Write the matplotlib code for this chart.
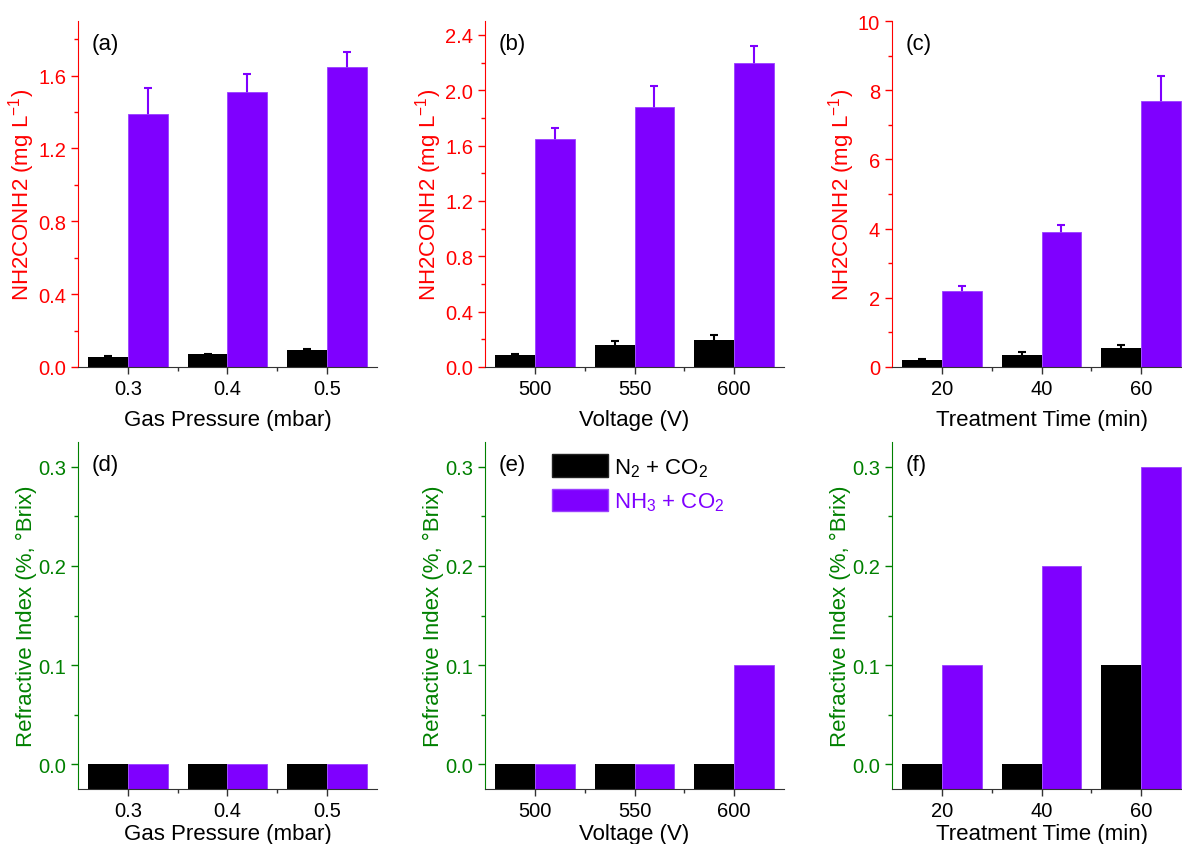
import matplotlib
matplotlib.use('Agg')
import matplotlib.pyplot as plt
import numpy as np
from matplotlib.patches import Patch
from matplotlib.ticker import MultipleLocator, FixedLocator

plt.rcParams['font.family'] = ['Liberation Sans', 'DejaVu Sans']
plt.rcParams['mathtext.fontset'] = 'custom'
plt.rcParams['mathtext.rm'] = 'Liberation Sans'
plt.rcParams['mathtext.it'] = 'Liberation Sans'
plt.rcParams['mathtext.default'] = 'regular'

# categories
pressure = ['0.3', '0.4', '0.5']
voltage = ['500', '550', '600']
treat_time = ['20', '40', '60']

# urea concentration (mg/L) and upper error
urea_n2_pressure = [0.056, 0.069, 0.091]
urea_n2_pressure_err = [0.004, 0.005, 0.006]
urea_nh3_pressure = [1.39, 1.51, 1.65]
urea_nh3_pressure_err = [0.14, 0.10, 0.08]

urea_n2_voltage = [0.089, 0.156, 0.193]
urea_n2_voltage_err = [0.006, 0.03, 0.035]
urea_nh3_voltage = [1.65, 1.88, 2.20]
urea_nh3_voltage_err = [0.08, 0.15, 0.12]

urea_n2_time = [0.20, 0.35, 0.55]
urea_n2_time_err = [0.03, 0.07, 0.09]
urea_nh3_time = [2.2, 3.9, 7.7]
urea_nh3_time_err = [0.13, 0.21, 0.70]

# refractive index (% Brix)
brix_n2_pressure = [0.0, 0.0, 0.0]
brix_nh3_pressure = [0.0, 0.0, 0.0]
brix_n2_voltage = [0.0, 0.0, 0.0]
brix_nh3_voltage = [0.0, 0.0, 0.1]
brix_n2_time = [0.0, 0.0, 0.1]
brix_nh3_time = [0.1, 0.2, 0.3]

BLACK = '#000000'
PURPLE = '#7F00FF'
RED = '#FF0000'
GREEN = '#008000'

W, H = 1182, 845
fig = plt.figure(figsize=(W / 100, H / 100), dpi=100)


def px_axes(left, top, right, bottom):
    return fig.add_axes([left / W, 1 - bottom / H, (right - left) / W, (bottom - top) / H])


def style_axes(ax, cats, color, ylim, major, minor, xlabel, ylabel, tag):
    ax.set_xlim(-0.5, len(cats) - 0.5)
    ax.set_ylim(*ylim)
    for s in ['top', 'right']:
        ax.spines[s].set_visible(False)
    ax.spines['left'].set_color(color)
    ax.spines['bottom'].set_color('#333333')
    ax.set_xticks(range(len(cats)))
    ax.set_xticklabels(cats)
    ax.xaxis.set_minor_locator(FixedLocator(np.arange(0.5, len(cats) - 0.5, 1)))
    ax.yaxis.set_major_locator(MultipleLocator(major))
    ax.yaxis.set_minor_locator(MultipleLocator(minor))
    ax.tick_params(axis='both', which='major', direction='out', length=5, width=1, labelsize=14.5)
    ax.tick_params(axis='both', which='minor', direction='out', length=3, width=1)
    ax.tick_params(axis='y', which='both', colors=color, labelcolor=color)
    ax.tick_params(axis='x', which='both', colors='#333333', labelcolor='black')
    ax.set_xlabel(xlabel, fontsize=16, labelpad=8)
    ax.set_ylabel(ylabel, fontsize=16, color=color, labelpad=1)
    ax.text(0.047, 0.935, tag, transform=ax.transAxes, fontsize=16, va='center', ha='left')


def draw_bars(ax, n2, nh3, n2_err=None, nh3_err=None, base=0.0):
    x = np.arange(len(n2))
    w = 0.4
    ax.bar(x - w / 2, np.array(n2) - base, width=w, bottom=base, color=BLACK, zorder=2)
    ax.bar(x + w / 2, np.array(nh3) - base, width=w, bottom=base, color=PURPLE,
           edgecolor='#9A40FF', linewidth=0.6, zorder=2)
    if n2_err is not None:
        # symmetric bars drawn behind the columns, so only the upper half shows
        ax.errorbar(x - w / 2, n2, yerr=n2_err, fmt='none',
                    ecolor=BLACK, elinewidth=1.5, capsize=3, capthick=1.5, zorder=1)
        ax.errorbar(x + w / 2, nh3, yerr=nh3_err, fmt='none',
                    ecolor=PURPLE, elinewidth=1.5, capsize=3, capthick=1.5, zorder=1)


urea_label = 'NH2CONH2 (mg L$^{-1}$)'
brix_label = 'Refractive Index (%, °Brix)'
lefts = [78, 485, 892]

# top row
ax_a = px_axes(lefts[0], 22, lefts[0] + 299, 368)
draw_bars(ax_a, urea_n2_pressure, urea_nh3_pressure, urea_n2_pressure_err, urea_nh3_pressure_err)
style_axes(ax_a, pressure, RED, (0, 1.9), 0.4, 0.2, 'Gas Pressure (mbar)', urea_label, '(a)')

ax_b = px_axes(lefts[1], 22, lefts[1] + 299, 368)
draw_bars(ax_b, urea_n2_voltage, urea_nh3_voltage, urea_n2_voltage_err, urea_nh3_voltage_err)
style_axes(ax_b, voltage, RED, (0, 2.5), 0.4, 0.2, 'Voltage (V)', urea_label, '(b)')

ax_c = px_axes(lefts[2], 22, lefts[2] + 299, 368)
draw_bars(ax_c, urea_n2_time, urea_nh3_time, urea_n2_time_err, urea_nh3_time_err)
style_axes(ax_c, treat_time, RED, (0, 10), 2, 1, 'Treatment Time (min)', urea_label, '(c)')

# bottom row
ylo = -0.025
ax_d = px_axes(lefts[0], 443, lefts[0] + 299, 790)
draw_bars(ax_d, brix_n2_pressure, brix_nh3_pressure, base=ylo)
style_axes(ax_d, pressure, GREEN, (ylo, 0.325), 0.1, 0.05, 'Gas Pressure (mbar)', brix_label, '(d)')

ax_e = px_axes(lefts[1], 443, lefts[1] + 299, 790)
draw_bars(ax_e, brix_n2_voltage, brix_nh3_voltage, base=ylo)
style_axes(ax_e, voltage, GREEN, (ylo, 0.325), 0.1, 0.05, 'Voltage (V)', brix_label, '(e)')

ax_f = px_axes(lefts[2], 443, lefts[2] + 299, 790)
draw_bars(ax_f, brix_n2_time, brix_nh3_time, base=ylo)
style_axes(ax_f, treat_time, GREEN, (ylo, 0.325), 0.1, 0.05, 'Treatment Time (min)', brix_label, '(f)')

for ax in [ax_d, ax_e, ax_f]:
    ax.xaxis.labelpad = 2

handles = [Patch(facecolor=BLACK, edgecolor='#222222'), Patch(facecolor=PURPLE, edgecolor='#9A40FF')]
leg = ax_e.legend(handles, ['N$_2$ + CO$_2$', 'NH$_3$ + CO$_2$'], loc='upper left',
                  bbox_to_anchor=(0.225, 0.965), frameon=False, fontsize=16,
                  handlelength=2.5, handleheight=1.2, labelspacing=0.45,
                  borderpad=0, borderaxespad=0, handletextpad=0.3)
for txt, c in zip(leg.get_texts(), [BLACK, PURPLE]):
    txt.set_color(c)

fig.savefig('out.png', dpi=100)
